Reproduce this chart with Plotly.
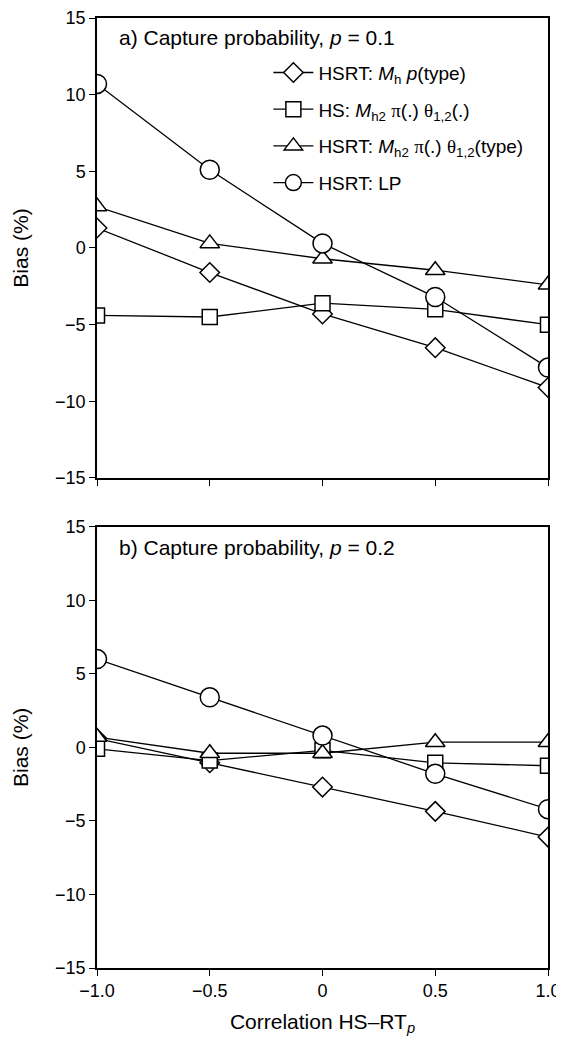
import plotly.graph_objects as go

x_vals = [-1.0, -0.5, 0.0, 0.5, 1.0]
x_ticktext = ["\u22121.0", "\u22120.5", "0", "0.5", "1.0"]
y_ticks = [-15, -10, -5, 0, 5, 10, 15]

# Panel a) p = 0.1
a_diamond = [1.3, -1.6, -4.3, -6.5, -9.1]
a_square = [-4.4, -4.5, -3.6, -4.0, -5.0]
a_triangle = [2.7, 0.3, -0.7, -1.45, -2.4]
a_circle = [10.7, 5.1, 0.3, -3.2, -7.8]

# Panel b) p = 0.2
b_diamond = [0.6, -1.05, -2.7, -4.35, -6.1]
b_square = [-0.1, -0.9, -0.2, -1.05, -1.25]
b_triangle = [0.7, -0.4, -0.4, 0.35, 0.35]
b_circle = [6.0, 3.4, 0.8, -1.8, -4.2]

serif = "font-family:'Liberation Serif','DejaVu Serif',serif"
names = [
    "HSRT: <i>M</i><sub>h</sub> <i>p</i>(type)",
    f"HS: <i>M</i><sub>h2</sub> <span style=\"{serif}\">\u03c0</span>(.) <span style=\"{serif}\">\u03b8</span><sub>1,2</sub>(.)",
    f"HSRT: <i>M</i><sub>h2</sub> <span style=\"{serif}\">\u03c0</span>(.) <span style=\"{serif}\">\u03b8</span><sub>1,2</sub>(type)",
    "HSRT: LP",
]
symbols = ["diamond", "square", "triangle-up", "circle"]
sizes = [15, 15, 17, 19]

fig = go.Figure()

panels = [
    ([a_diamond, a_square, a_triangle, a_circle], "x", "y", True),
    ([b_diamond, b_square, b_triangle, b_circle], "x2", "y2", False),
]
for series, xa, ya, show in panels:
    for i, vals in enumerate(series):
        fig.add_trace(go.Scatter(
            x=x_vals, y=vals, mode="lines+markers", name=names[i],
            xaxis=xa, yaxis=ya, showlegend=show, legendgroup=f"g{i}",
            line=dict(color="black", width=1.3),
            marker=dict(symbol=symbols[i], size=sizes[i], color="white",
                        line=dict(color="black", width=1.5)),
        ))

axis_common = dict(
    showline=True, linecolor="black", linewidth=1.5, mirror=True,
    ticks="outside", ticklen=6, tickwidth=1, tickcolor="black",
    showgrid=False, zeroline=False, automargin=False,
    ticklabeloverflow="allow",
    tickfont=dict(size=18, color="black"),
)

fig.update_layout(
    width=556, height=1034,
    margin=dict(l=89, r=16, t=10, b=74),
    paper_bgcolor="white", plot_bgcolor="white",
    font=dict(family="Liberation Sans, Arial, sans-serif", color="black"),
    xaxis=dict(domain=[0, 1], anchor="y", range=[-1.0, 1.0],
               tickvals=x_vals, showticklabels=False, **axis_common),
    yaxis=dict(domain=[0.5158, 1], anchor="x", range=[-15, 15],
               tickvals=y_ticks, title=dict(text="Bias (%)", font=dict(size=21), standoff=21),
               **axis_common),
    xaxis2=dict(domain=[0, 1], anchor="y2", range=[-1.0, 1.0],
                tickvals=x_vals, ticktext=x_ticktext,
                title=dict(text="Correlation HS\u2013RT<sub><i>p</i></sub>", font=dict(size=21), standoff=14),
                **axis_common),
    yaxis2=dict(domain=[0, 0.4645], anchor="x2", range=[-15, 15],
                tickvals=y_ticks, title=dict(text="Bias (%)", font=dict(size=21), standoff=21),
                **axis_common),
    legend=dict(x=0.38, y=0.9625, xanchor="left", yanchor="top",
                bgcolor="rgba(0,0,0,0)", font=dict(size=19, color="black"),
                traceorder="grouped", tracegroupgap=9, itemwidth=40),
    annotations=[
        dict(text="a) Capture probability, <i>p</i> = 0.1", xref="paper", yref="paper",
             x=0.045, y=0.98, xanchor="left", yanchor="middle", showarrow=False,
             font=dict(size=21, color="black")),
        dict(text="b) Capture probability, <i>p</i> = 0.2", xref="paper", yref="paper",
             x=0.045, y=0.443, xanchor="left", yanchor="middle", showarrow=False,
             font=dict(size=21, color="black")),
    ],
)

fig.write_html("out.html")
